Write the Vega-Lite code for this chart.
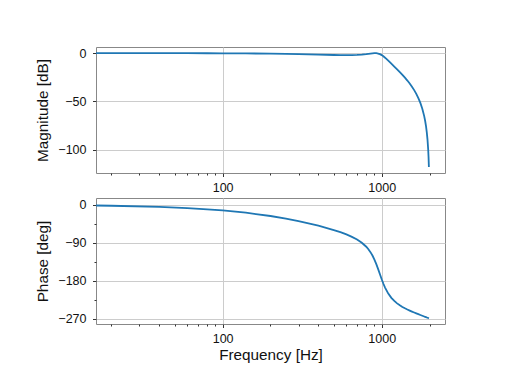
{
  "$schema": "https://vega.github.io/schema/vega-lite/v6.json",
  "padding": {"left": 35, "top": 46, "right": 5, "bottom": 5},
  "background": "white",
  "spacing": 25,
  "bounds": "flush",
  "data": {
    "values": [
      {"f": 16, "mag": -0.004, "phase": -2.25},
      {"f": 20, "mag": -0.006, "phase": -2.81},
      {"f": 40, "mag": -0.023, "phase": -5.62},
      {"f": 60, "mag": -0.050, "phase": -8.41},
      {"f": 80, "mag": -0.089, "phase": -11.19},
      {"f": 100, "mag": -0.137, "phase": -13.93},
      {"f": 140, "mag": -0.262, "phase": -19.33},
      {"f": 200, "mag": -0.505, "phase": -27.12},
      {"f": 250, "mag": -0.744, "phase": -33.28},
      {"f": 300, "mag": -0.999, "phase": -39.16},
      {"f": 400, "mag": -1.493, "phase": -50.10},
      {"f": 500, "mag": -1.867, "phase": -60.38},
      {"f": 550, "mag": -1.972, "phase": -65.50},
      {"f": 600, "mag": -1.998, "phase": -70.79},
      {"f": 650, "mag": -1.928, "phase": -76.47},
      {"f": 700, "mag": -1.740, "phase": -82.83},
      {"f": 750, "mag": -1.414, "phase": -90.38},
      {"f": 800, "mag": -0.947, "phase": -99.89},
      {"f": 825, "mag": -0.674, "phase": -105.75},
      {"f": 850, "mag": -0.398, "phase": -112.63},
      {"f": 875, "mag": -0.157, "phase": -120.71},
      {"f": 900, "mag": -0.013, "phase": -130.20},
      {"f": 925, "mag": -0.050, "phase": -141.06},
      {"f": 950, "mag": -0.364, "phase": -152.94},
      {"f": 975, "mag": -1.015, "phase": -165.17},
      {"f": 1000, "mag": -2.000, "phase": -176.92},
      {"f": 1025, "mag": -3.251, "phase": -187.49},
      {"f": 1050, "mag": -4.675, "phase": -196.62},
      {"f": 1100, "mag": -7.742, "phase": -210.81},
      {"f": 1150, "mag": -10.83, "phase": -220.88},
      {"f": 1200, "mag": -13.84, "phase": -228.27},
      {"f": 1250, "mag": -16.77, "phase": -233.96},
      {"f": 1300, "mag": -19.65, "phase": -238.54},
      {"f": 1350, "mag": -22.51, "phase": -242.36},
      {"f": 1400, "mag": -25.41, "phase": -245.63},
      {"f": 1450, "mag": -28.39, "phase": -248.52},
      {"f": 1500, "mag": -31.48, "phase": -251.09},
      {"f": 1550, "mag": -34.76, "phase": -253.45},
      {"f": 1600, "mag": -38.29, "phase": -255.64},
      {"f": 1650, "mag": -42.16, "phase": -257.67},
      {"f": 1700, "mag": -46.51, "phase": -259.61},
      {"f": 1750, "mag": -51.53, "phase": -261.45},
      {"f": 1800, "mag": -57.56, "phase": -263.24},
      {"f": 1850, "mag": -65.23, "phase": -264.97},
      {"f": 1875, "mag": -70.04, "phase": -265.82},
      {"f": 1900, "mag": -75.91, "phase": -266.67},
      {"f": 1920, "mag": -81.76, "phase": -267.34},
      {"f": 1940, "mag": -89.28, "phase": -268.00},
      {"f": 1960, "mag": -99.87, "phase": -268.67},
      {"f": 1970, "mag": -107.37, "phase": -269.00},
      {"f": 1980, "mag": -117.94, "phase": -269.34}
    ]
  },
  "vconcat": [
    {
      "width": 349,
      "height": 126,
      "mark": {"type": "line", "color": "#1f77b4", "strokeWidth": 1.8, "clip": true},
      "encoding": {
        "x": {
          "field": "f", "type": "quantitative",
          "scale": {"type": "log", "domain": [16, 2500], "nice": false},
          "axis": {
            "title": null,
            "values": [20, 30, 40, 50, 60, 70, 80, 90, 100, 200, 300, 400, 500, 600, 700, 800, 900, 1000, 2000],
            "labelExpr": "datum.value == 100 || datum.value == 1000 ? format(datum.value, 'd') : ''",
            "labelOverlap": false,
            "labelFlush": false,
            "labelPadding": 5,
            "tickSize": {"condition": {"test": "datum.value == 100 || datum.value == 1000", "value": 3.5}, "value": 2},
            "gridOpacity": {"condition": {"test": "datum.value == 100 || datum.value == 1000", "value": 1}, "value": 0}
          }
        },
        "y": {
          "field": "mag", "type": "quantitative",
          "scale": {"domain": [-124.2, 6.4], "nice": false, "zero": false},
          "axis": {
            "title": "Magnitude [dB]",
            "values": [-100, -50, 0],
            "tickSize": 3.5,
            "labelPadding": 6.5,
            "titlePadding": 7
          }
        }
      }
    },
    {
      "width": 349,
      "height": 126,
      "mark": {"type": "line", "color": "#1f77b4", "strokeWidth": 1.8, "clip": true},
      "encoding": {
        "x": {
          "field": "f", "type": "quantitative",
          "scale": {"type": "log", "domain": [16, 2500], "nice": false},
          "axis": {
            "title": "Frequency [Hz]",
            "titlePadding": 2.5,
            "values": [20, 30, 40, 50, 60, 70, 80, 90, 100, 200, 300, 400, 500, 600, 700, 800, 900, 1000, 2000],
            "labelExpr": "datum.value == 100 || datum.value == 1000 ? format(datum.value, 'd') : ''",
            "labelOverlap": false,
            "labelFlush": false,
            "labelPadding": 5,
            "tickSize": {"condition": {"test": "datum.value == 100 || datum.value == 1000", "value": 3.5}, "value": 2},
            "gridOpacity": {"condition": {"test": "datum.value == 100 || datum.value == 1000", "value": 1}, "value": 0}
          }
        },
        "y": {
          "field": "phase", "type": "quantitative",
          "scale": {"domain": [-282.8, 15.5], "nice": false, "zero": false},
          "axis": {
            "title": "Phase [deg]",
            "values": [-270, -225, -180, -135, -90, -45, 0],
            "labelExpr": "datum.value % 90 == 0 ? datum.label : ''",
            "labelOverlap": false,
            "labelPadding": 6.5,
            "tickSize": {"condition": {"test": "datum.value % 90 == 0", "value": 3.5}, "value": 2},
            "gridOpacity": {"condition": {"test": "datum.value % 90 == 0", "value": 1}, "value": 0},
            "titlePadding": 7
          }
        }
      }
    }
  ],
  "config": {
    "font": "Liberation Sans",
    "view": {"stroke": "#888888", "strokeWidth": 1},
    "axis": {
      "domain": false,
      "labelFont": "Liberation Sans",
      "labelFontSize": 12.5,
      "labelColor": "#111111",
      "titleFont": "Liberation Sans",
      "titleFontSize": 15.3,
      "titleFontWeight": "normal",
      "titleColor": "#111111",
      "gridColor": "#cccccc",
      "gridWidth": 1,
      "tickColor": "#333333",
      "tickWidth": 1
    }
  }
}
